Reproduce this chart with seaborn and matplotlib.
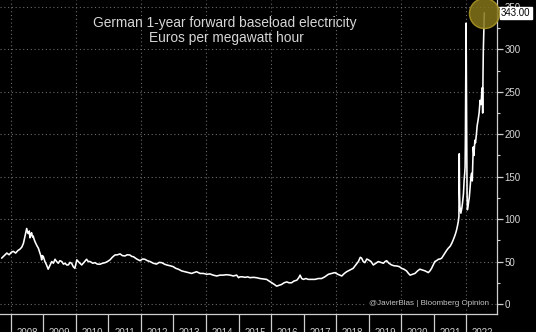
import matplotlib
matplotlib.use("Agg")
import matplotlib.pyplot as plt
import seaborn as sns
import pandas as pd
import numpy as np

# ---- data (decimal year, EUR/MWh) ----
years = [2007.72, 2007.80, 2007.88, 2007.95, 2008.02, 2008.08, 2008.15, 2008.22, 2008.28, 2008.34,
         2008.39, 2008.44, 2008.49, 2008.52, 2008.54, 2008.57, 2008.59, 2008.62, 2008.64, 2008.67,
         2008.69, 2008.72, 2008.75, 2008.80, 2008.85, 2008.88, 2008.90, 2008.93, 2008.95, 2008.97,
         2009.00, 2009.05, 2009.10, 2009.15, 2009.20, 2009.26, 2009.31, 2009.36, 2009.41, 2009.46,
         2009.51, 2009.57, 2009.62, 2009.67, 2009.72, 2009.77, 2009.82, 2009.87, 2009.92, 2009.97,
         2010.03, 2010.10, 2010.18, 2010.25, 2010.33, 2010.38, 2010.44, 2010.52, 2010.59, 2010.66,
         2010.74, 2010.82, 2010.90, 2010.97, 2011.05, 2011.12, 2011.20, 2011.28, 2011.36, 2011.43,
         2011.51, 2011.58, 2011.66, 2011.72, 2011.77, 2011.87, 2011.97, 2012.05, 2012.12, 2012.20,
         2012.28, 2012.38, 2012.48, 2012.56, 2012.64, 2012.72, 2012.79, 2012.90, 2012.99, 2013.07,
         2013.15, 2013.25, 2013.35, 2013.45, 2013.56, 2013.63, 2013.71, 2013.82, 2013.92, 2014.02,
         2014.12, 2014.22, 2014.33, 2014.43, 2014.53, 2014.63, 2014.74, 2014.84, 2014.94, 2015.00,
         2015.04, 2015.12, 2015.20, 2015.28, 2015.35, 2015.45, 2015.55, 2015.66, 2015.76, 2015.86,
         2015.94, 2016.02, 2016.10, 2016.17, 2016.25, 2016.32, 2016.40, 2016.48, 2016.55, 2016.63,
         2016.70, 2016.79, 2016.85, 2016.89, 2016.94, 2016.99, 2017.07, 2017.14, 2017.25, 2017.35,
         2017.45, 2017.55, 2017.65, 2017.76, 2017.86, 2017.96, 2018.05, 2018.17, 2018.25, 2018.32,
         2018.42, 2018.52, 2018.60, 2018.68, 2018.74, 2018.78, 2018.83, 2018.88, 2018.94, 2018.99,
         2019.07, 2019.14, 2019.22, 2019.29, 2019.37, 2019.45, 2019.50, 2019.55, 2019.62, 2019.70,
         2019.78, 2019.86, 2019.94, 2020.01, 2020.08, 2020.16, 2020.22, 2020.27, 2020.35, 2020.42,
         2020.50, 2020.57, 2020.65, 2020.73, 2020.78, 2020.83, 2020.88, 2020.93, 2020.98, 2021.03,
         2021.08, 2021.14, 2021.19, 2021.24, 2021.29, 2021.34, 2021.39, 2021.44, 2021.50, 2021.55,
         2021.60, 2021.65, 2021.69, 2021.72, 2021.75, 2021.77, 2021.78, 2021.79, 2021.80, 2021.82,
         2021.83, 2021.86, 2021.88, 2021.91, 2021.93, 2021.95, 2021.96, 2021.97, 2021.99, 2022.00,
         2022.01, 2022.02, 2022.03, 2022.06, 2022.09, 2022.12, 2022.14, 2022.16, 2022.18, 2022.21,
         2022.23, 2022.26, 2022.28, 2022.31, 2022.33, 2022.36, 2022.39, 2022.42, 2022.45, 2022.47,
         2022.49, 2022.50, 2022.51, 2022.52, 2022.535, 2022.55]
prices = [54, 57, 60, 58, 61, 62, 60, 63, 64.5, 67,
          71.5, 80, 89, 84, 83, 86, 78, 82, 84, 79,
          80, 76, 73, 69, 65.6, 62, 60, 56, 52, 57,
          56, 50, 46, 41, 45, 50, 48, 52.7, 50, 48,
          51, 50, 47, 48, 46, 46, 49, 48, 44, 42,
          52, 49, 46, 49, 52.7, 50, 50, 48, 48.7, 47,
          46.8, 48, 48.7, 50, 52, 55, 57.7, 58, 59, 57,
          56.6, 58, 57.7, 56, 55.7, 53, 51, 53, 52.7, 51,
          50, 48, 47, 49, 48.7, 47, 46, 45, 44, 42,
          41, 39, 38, 37, 36, 37, 38, 36, 36, 35,
          35.4, 34, 33, 34, 34, 34.5, 34, 33, 34, 31,
          32, 32, 31.4, 32, 31, 31.4, 31, 30, 29.5, 29,
          27, 25, 23, 21, 22, 23, 25, 26, 25, 25,
          27, 28, 31, 34, 30, 29, 30, 29, 29, 29,
          30, 30, 32, 35, 36, 37, 35, 33, 36, 38,
          40, 42, 46, 50, 55, 54, 50, 48.7, 53, 52,
          50, 46, 48, 50, 49, 48, 50, 51, 48, 46,
          45, 44.8, 44, 42, 41, 39, 36, 34, 35, 36,
          39, 41, 40, 39, 38, 37, 39, 42, 46, 50,
          51, 52.7, 53, 54, 57, 60, 63, 65.6, 68, 71.5,
          76, 81, 86, 91, 97, 103, 177, 130, 115, 110,
          107, 113, 119, 130, 146, 155, 162, 200, 331, 260,
          180, 130, 111, 118, 126, 140, 150, 154, 145, 185,
          175, 193, 190, 201, 210, 217, 225, 240, 235, 248,
          255, 225, 270, 299, 320, 343]

year_labels = [str(y) for y in range(2008, 2023)]
y_major = [0, 50, 100, 150, 200, 250, 300, 350]
last_value_label = "343.00"
title_lines = ["German 1-year forward baseload electricity", "Euros per megawatt hour"]
credit = "@JavierBlas | Bloomberg Opinion"

df = pd.DataFrame({"year": years, "price": prices})

sns.set_theme(style="dark")
plt.rcParams["font.family"] = ["Liberation Sans", "DejaVu Sans"]

fig = plt.figure(figsize=(5.36, 3.32), dpi=100, facecolor="black")
ax = fig.add_axes([0, 18 / 332, 497 / 536, 314 / 332])
ax.set_facecolor("black")

sns.lineplot(data=df, x="year", y="price", ax=ax, color="white", linewidth=1.15, zorder=3)

ax.set_xlim(2007.67, 2022.94)
ax.set_ylim(-11.8, 358.2)

# spines
for s in ["top", "left"]:
    ax.spines[s].set_visible(False)
for s in ["bottom", "right"]:
    ax.spines[s].set_visible(True)
    ax.spines[s].set_color("#cfcfcf")
    ax.spines[s].set_linewidth(0.9)

# x: year boundary ticks (gridlines every 2 years)
yr_int = list(range(2008, 2023))
ax.set_xticks([y for y in yr_int if y % 2 == 0])
ax.set_xticks([y for y in yr_int if y % 2 == 1], minor=True)
ax.tick_params(axis="x", which="both", direction="out", length=16, width=0.9,
               color="#cfcfcf", labelbottom=False, bottom=True)
sec = ax.secondary_xaxis("bottom")
sec.set_xticks([y + 0.5 for y in yr_int], labels=year_labels)
sec.tick_params(length=0, pad=10, labelsize=7, labelcolor="#d0d0d0")
sec.spines["bottom"].set_visible(False)

# y on right
ax.yaxis.tick_right()
ax.set_yticks(y_major)
ax.set_yticks(np.arange(25, 350, 50), minor=True)
ax.tick_params(axis="y", which="major", direction="out", length=4, width=0.9,
               color="#cfcfcf", labelsize=7, labelcolor="#d8d8d8", pad=1.5, right=True, left=False)
ax.tick_params(axis="y", which="minor", direction="out", length=2.5, width=0.8,
               color="#cfcfcf", right=True, left=False)
ax.set_xlabel("")
ax.set_ylabel("")

# dotted grid
ax.grid(True, which="major", axis="both", color="#6a6a6a", linestyle=(0, (1, 2.4)), linewidth=0.8)
ax.set_axisbelow(True)

# title
ax.text(0.452, 0.926, title_lines[0], transform=ax.transAxes, ha="center", va="center",
        color="#d6d6d6", fontsize=9.9)
ax.text(0.455, 0.878, title_lines[1], transform=ax.transAxes, ha="center", va="center",
        color="#d6d6d6", fontsize=9.9)

# credit
ax.text(0.983, 0, credit, transform=ax.get_yaxis_transform(), ha="right", va="center",
        color="#c4c4c4", fontsize=5.8,
        bbox=dict(boxstyle="square,pad=0.15", facecolor="black", edgecolor="none"), zorder=4)

# last point highlight
ax.scatter([years[-1]], [prices[-1]], s=470, facecolor="#857519", edgecolor="#b09a28",
           linewidth=1.0, alpha=0.85, zorder=5, clip_on=False)
ax.annotate(last_value_label, xy=(1.0, prices[-1]), xycoords=ax.get_yaxis_transform(),
            xytext=(3, 0), textcoords="offset points", ha="left", va="center",
            fontsize=7, color="black", annotation_clip=False, zorder=6,
            bbox=dict(boxstyle="square,pad=0.12", facecolor="white", edgecolor="white"))

fig.savefig("out.png", dpi=100, facecolor="black")
